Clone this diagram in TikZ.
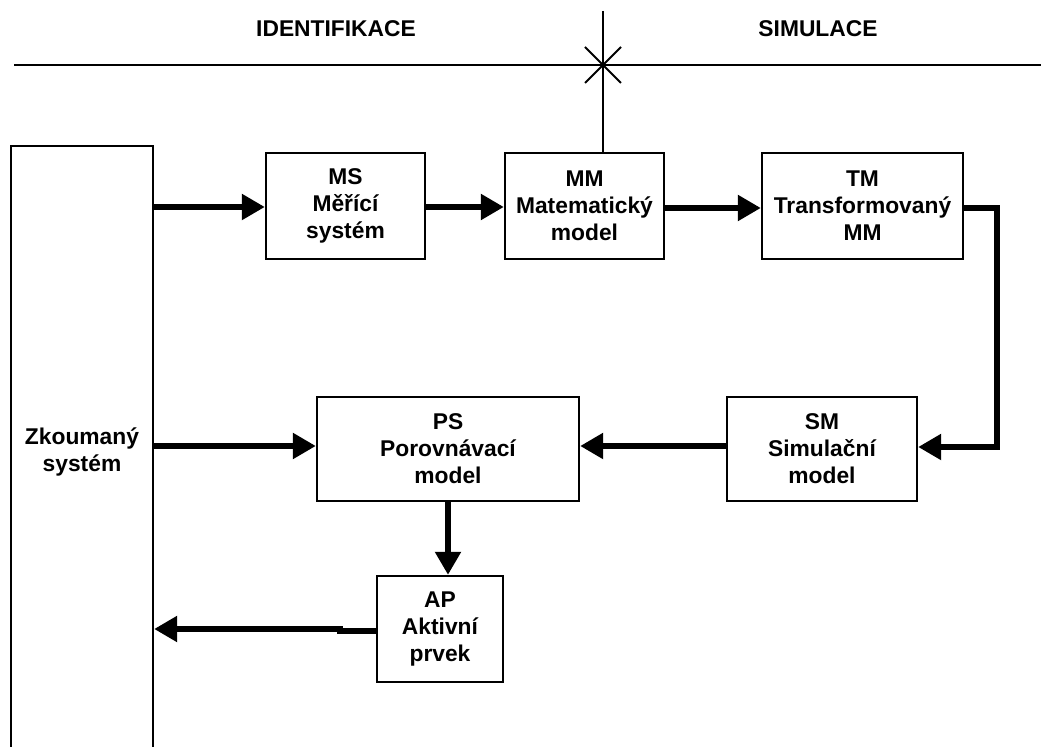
\documentclass[tikz,border=0pt]{standalone}
\usepackage{fontspec}
\setmainfont{Liberation Sans}
\usetikzlibrary{arrows.meta}
\begin{document}
\begin{tikzpicture}[x=0.5pt,y=-0.5pt,
  txt/.style={font=\fontsize{11.4pt}{13.5pt}\selectfont\bfseries},
  box/.style={txt, draw, line width=1.2pt, align=center, inner sep=0pt},
  flow/.style={line width=2.7pt, -{Triangle[length=11.5pt,width=12.5pt]}},
  rule/.style={line width=1pt}]
\useasboundingbox (0,0) rectangle (1055,747);
\clip (0,0) rectangle (1055,747);

% phase headers and dividing lines
\node[txt, anchor=base] (hid) at (336,37) {IDENTIFIKACE};
\node[txt, anchor=base] (hsim) at (818,37) {SIMULACE};
\coordinate (hl) at (14,65);
\coordinate (hr) at (1041,65);
\coordinate (cx) at (603,65);
\coordinate (vt) at (603,11);
\draw[rule] (hl) -- (hr);
\draw[rule] ([shift={(-18,-18)}]cx) -- ([shift={(18,18)}]cx);
\draw[rule] ([shift={(-18,18)}]cx) -- ([shift={(18,-18)}]cx);

% blocks
\node[box, minimum width=71pt, minimum height=306pt] (zs) at (82,452) {Zkoumaný\\systém};
\node[box, minimum width=79.5pt, minimum height=53pt] (ms) at (345.5,206) {MS\\Měřící\\systém};
\node[box, minimum width=79.5pt, minimum height=53pt] (mm) at (584.5,206) {MM\\Matematický\\model};
\node[box, minimum width=100.5pt, minimum height=53pt] (tm) at (862.5,206) {TM\\Transformovaný\\MM};
\node[box, minimum width=131pt, minimum height=52pt] (ps) at (448,449) {PS\\Porovnávací\\model};
\node[box, minimum width=95pt, minimum height=52pt] (sm) at (822,449) {SM\\Simulační\\model};
\node[box, minimum width=63pt, minimum height=53pt] (ap) at (440,629) {AP\\Aktivní\\prvek};

\coordinate (vt) at (603,11);
\draw[rule] (vt) -- (vt |- mm.north);

% connections
\draw[flow] (zs.east |- 0,207) -- (ms.west |- 0,207);
\draw[flow] (ms.east |- 0,207) -- (mm.west |- 0,207);
\draw[flow] (mm.east |- 0,208) -- (tm.west |- 0,208);
\coordinate (tr) at (997,208);
\draw[flow] (tm.east |- tr) -- (tr) -- (tr |- 0,447) -- (sm.east |- 0,447);
\draw[flow] (sm.west |- 0,446) -- (ps.east |- 0,446);
\draw[flow] (zs.east |- 0,446) -- (ps.west |- 0,446);
\draw[flow] (ps.south) -- (ps.south |- ap.north);
\coordinate (jog) at (340,631);
\draw[flow] (ap.west |- jog) -- (jog) -- ++(0,-2) -- (zs.east |- 0,629);
\end{tikzpicture}
\end{document}
